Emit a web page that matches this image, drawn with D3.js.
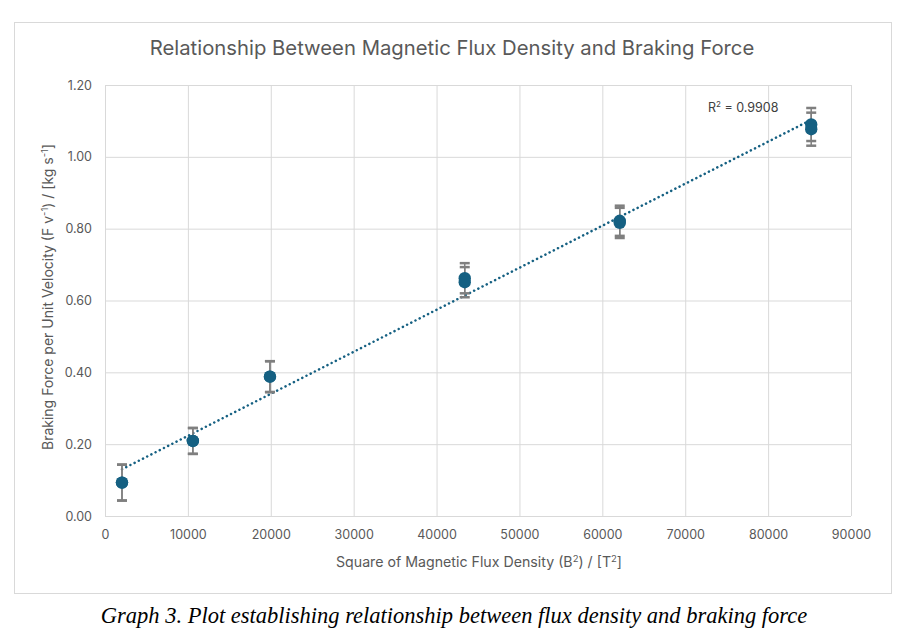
<!DOCTYPE html>
<html>
<head>
<meta charset="utf-8">
<script src="https://cdn.jsdelivr.net/npm/d3@7"></script>
<style>
  body { margin: 0; background: #fff; }
  text { font-family: Inter, "Open Sans", sans-serif; }
</style>
</head>
<body>
<div id="chart"></div>
<script>
// data
const fluxSq = [2050, 10600, 19900, 43400, 62100, 85200];
const forceA = [0.093, 0.209, 0.388, 0.662, 0.822, 1.090];
const forceB = [0.093, 0.209, 0.388, 0.651, 0.816, 1.077];
const errA = [0.05, 0.036, 0.043, 0.042, 0.042, 0.046];
const errB = [0.05, 0.036, 0.043, 0.042, 0.042, 0.046];
const xTicks = [0, 10000, 20000, 30000, 40000, 50000, 60000, 70000, 80000, 90000];
const yTicks = [0, 0.2, 0.4, 0.6, 0.8, 1.0, 1.2];
const r2Label = "0.9908";

const points = [];
fluxSq.forEach((x, i) => {
    points.push({ x: x, y: forceA[i], e: errA[i] });
    points.push({ x: x, y: forceB[i], e: errB[i] });
});

let dimensions = {
    width: 914,
    height: 640,
    margin: { top: 85, right: 63, bottom: 124, left: 105 }
};
dimensions.boundW = dimensions.width - dimensions.margin.left - dimensions.margin.right;
dimensions.boundH = dimensions.height - dimensions.margin.top - dimensions.margin.bottom;

const svg = d3.select('#chart').append('svg')
    .attr('width', dimensions.width)
    .attr('height', dimensions.height);

// chart frame
svg.append('rect')
    .attr('x', 14.5).attr('y', 22.5)
    .attr('width', 877).attr('height', 571)
    .attr('fill', '#fff')
    .attr('stroke', '#d9d9d9');

let bounds = svg.append('g')
    .attr('transform', `translate(${dimensions.margin.left},${dimensions.margin.top})`);

const xScale = d3.scaleLinear().domain([0, 90000]).range([0, dimensions.boundW]);
const yScale = d3.scaleLinear().domain([0, 1.2]).range([dimensions.boundH, 0]);

// grid
const yAxisGenerator = d3.axisLeft(yScale)
    .tickValues(yTicks)
    .tickSize(-dimensions.boundW)
    .tickPadding(13)
    .tickFormat(d3.format('.2f'));
const yAxis = bounds.append('g').call(yAxisGenerator);

const xAxisGenerator = d3.axisBottom(xScale)
    .tickValues(xTicks)
    .tickSize(-dimensions.boundH)
    .tickPadding(14)
    .tickFormat(d3.format('d'));
const xAxis = bounds.append('g')
    .attr('transform', `translate(0,${dimensions.boundH})`)
    .call(xAxisGenerator);

[xAxis, yAxis].forEach(ax => {
    ax.select('.domain').remove();
    ax.selectAll('.tick line').attr('stroke', '#d9d9d9').attr('stroke-width', 1);
    ax.selectAll('.tick text')
        .attr('fill', '#595959')
        .style('font-size', '12.5px')
        .style('font-family', 'Inter, "Open Sans", sans-serif');
});

// linear trendline from least squares
const mx = d3.mean(points, d => d.x);
const my = d3.mean(points, d => d.y);
const slope = d3.sum(points, d => (d.x - mx) * (d.y - my)) / d3.sum(points, d => (d.x - mx) ** 2);
const intercept = my - slope * mx;
const xExt = d3.extent(fluxSq);

bounds.append('path')
    .attr('d', d3.line()(xExt.map(x => [xScale(x), yScale(intercept + slope * x)])))
    .attr('fill', 'none')
    .attr('stroke', '#156082')
    .attr('stroke-width', 2.5)
    .attr('stroke-linecap', 'round')
    .attr('stroke-dasharray', '0.1 4.6');

// error bars
const eb = bounds.append('g').attr('stroke', '#7f7f7f');
eb.selectAll('line.v').data(points).join('line')
    .attr('x1', d => xScale(d.x)).attr('x2', d => xScale(d.x))
    .attr('y1', d => yScale(d.y + d.e)).attr('y2', d => yScale(d.y - d.e))
    .attr('stroke-width', 1.5);
eb.selectAll('line.cap').data(points.flatMap(d => [d.y + d.e, d.y - d.e].map(v => ({ x: d.x, v: v }))))
    .join('line')
    .attr('x1', d => xScale(d.x) - 5).attr('x2', d => xScale(d.x) + 5)
    .attr('y1', d => yScale(d.v)).attr('y2', d => yScale(d.v))
    .attr('stroke-width', 2.5);

// markers
bounds.append('g').selectAll('circle').data(points).join('circle')
    .attr('cx', d => xScale(d.x))
    .attr('cy', d => yScale(d.y))
    .attr('r', 6.2)
    .attr('fill', '#156082');

// R² label
const r2 = svg.append('text')
    .attr('x', 708).attr('y', 112)
    .attr('fill', '#404040')
    .style('font-size', '12.5px');
r2.append('tspan').text('R');
r2.append('tspan').attr('dy', -5).style('font-size', '8px').text('2');
r2.append('tspan').attr('dy', 5).text(' = ' + r2Label);

// title
svg.append('text')
    .attr('x', 452).attr('y', 55)
    .attr('text-anchor', 'middle')
    .attr('fill', '#595959')
    .style('font-size', '20.3px')
    .text('Relationship Between Magnetic Flux Density and Braking Force');

// x axis label
const xl = svg.append('text')
    .attr('x', 479).attr('y', 567)
    .attr('text-anchor', 'middle')
    .attr('fill', '#595959')
    .style('font-size', '14.2px');
xl.append('tspan').text('Square of Magnetic Flux Density (B');
xl.append('tspan').attr('dy', -5).style('font-size', '9.5px').text('2');
xl.append('tspan').attr('dy', 5).text(') / [T');
xl.append('tspan').attr('dy', -5).style('font-size', '9.5px').text('2');
xl.append('tspan').attr('dy', 5).text(']');

// y axis label
const yl = svg.append('text')
    .attr('transform', 'translate(53,297) rotate(-90)')
    .attr('text-anchor', 'middle')
    .attr('fill', '#595959')
    .style('font-size', '14px');
yl.append('tspan').text('Braking Force per Unit Velocity (F v');
yl.append('tspan').attr('dy', -5).style('font-size', '9.5px').text('-1');
yl.append('tspan').attr('dy', 5).text(') / [kg s');
yl.append('tspan').attr('dy', -5).style('font-size', '9.5px').text('-1');
yl.append('tspan').attr('dy', 5).text(']');

// caption
svg.append('text')
    .attr('x', 454).attr('y', 623)
    .attr('text-anchor', 'middle')
    .attr('fill', '#000')
    .style('font-family', '"Liberation Serif", "Times New Roman", serif')
    .style('font-style', 'italic')
    .style('font-size', '22.5px')
    .text('Graph 3. Plot establishing relationship between flux density and braking force');
</script>
</body>
</html>
